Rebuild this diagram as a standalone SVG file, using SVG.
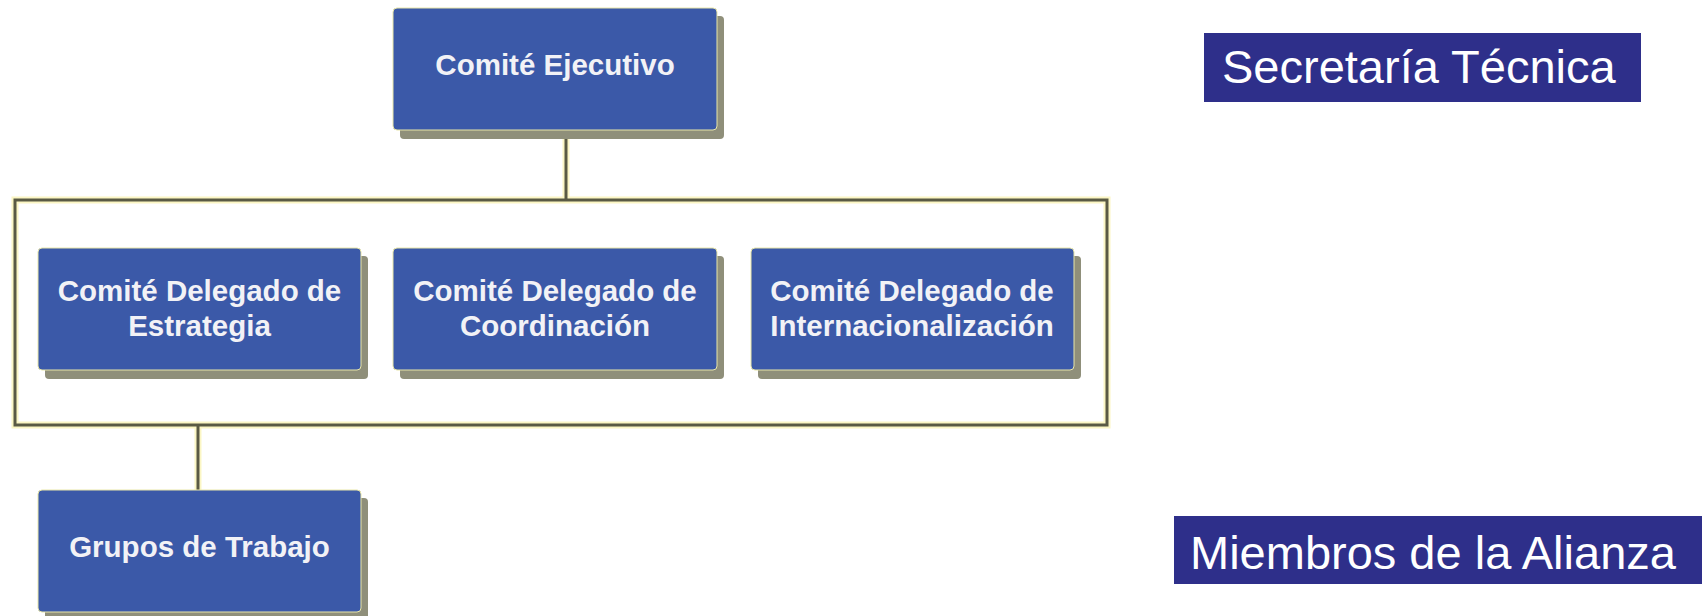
<svg xmlns="http://www.w3.org/2000/svg" width="1702" height="616" viewBox="0 0 1702 616">
<defs>
<style>
.shadow{fill:#8f8f7a}
.box{fill:#3b59a8;stroke:#e8e6a8;stroke-width:1}
.lbl{font-family:"Liberation Sans",Arial,sans-serif;font-weight:bold;font-size:29.5px;fill:#f2f2f6;text-anchor:middle}
.glow{fill:none;stroke:#fbf6c4;stroke-width:7}
.line{fill:none;stroke:#5a5a44;stroke-width:3}
.tag{fill:#2e2f8a}
.tagtxt{font-family:"Liberation Sans",Arial,sans-serif;font-size:47px;fill:#ffffff}
</style>
</defs>
<rect width="1702" height="616" fill="#ffffff"/>
<g id="connectors">
<rect class="glow" x="15" y="200" width="1092" height="225"/>
<line class="glow" x1="566" y1="131" x2="566" y2="200"/>
<line class="glow" x1="198" y1="425" x2="198" y2="490"/>
<rect class="line" x="15" y="200" width="1092" height="225"/>
<line class="line" x1="566" y1="131" x2="566" y2="200"/>
<line class="line" x1="198" y1="425" x2="198" y2="490"/>
</g>
<g id="ejecutivo">
<rect class="shadow" x="400" y="16" width="324" height="123" rx="4"/>
<rect class="box" x="393" y="8" width="324" height="122" rx="4"/>
<text class="lbl" x="555" y="75">Comité Ejecutivo</text>
</g>
<g id="estrategia">
<rect class="shadow" x="45" y="256" width="323" height="123" rx="4"/>
<rect class="box" x="38" y="248" width="323" height="122" rx="4"/>
<text class="lbl" x="199.5" y="301">Comité Delegado de</text>
<text class="lbl" x="199.5" y="336">Estrategia</text>
</g>
<g id="coordinacion">
<rect class="shadow" x="400" y="256" width="324" height="123" rx="4"/>
<rect class="box" x="393" y="248" width="324" height="122" rx="4"/>
<text class="lbl" x="555" y="301">Comité Delegado de</text>
<text class="lbl" x="555" y="336">Coordinación</text>
</g>
<g id="internacionalizacion">
<rect class="shadow" x="758" y="256" width="323" height="123" rx="4"/>
<rect class="box" x="751" y="248" width="323" height="122" rx="4"/>
<text class="lbl" x="912" y="301">Comité Delegado de</text>
<text class="lbl" x="912" y="336">Internacionalización</text>
</g>
<g id="grupos">
<rect class="shadow" x="45" y="498" width="323" height="123" rx="4"/>
<rect class="box" x="38" y="490" width="323" height="122" rx="4"/>
<text class="lbl" x="199.5" y="557">Grupos de Trabajo</text>
</g>
<g id="secretaria">
<rect class="tag" x="1204" y="33" width="437" height="69"/>
<text class="tagtxt" x="1222" y="83">Secretaría Técnica</text>
</g>
<g id="miembros">
<rect class="tag" x="1174" y="516" width="540" height="68"/>
<text class="tagtxt" x="1190" y="569">Miembros de la Alianza</text>
</g>
</svg>
